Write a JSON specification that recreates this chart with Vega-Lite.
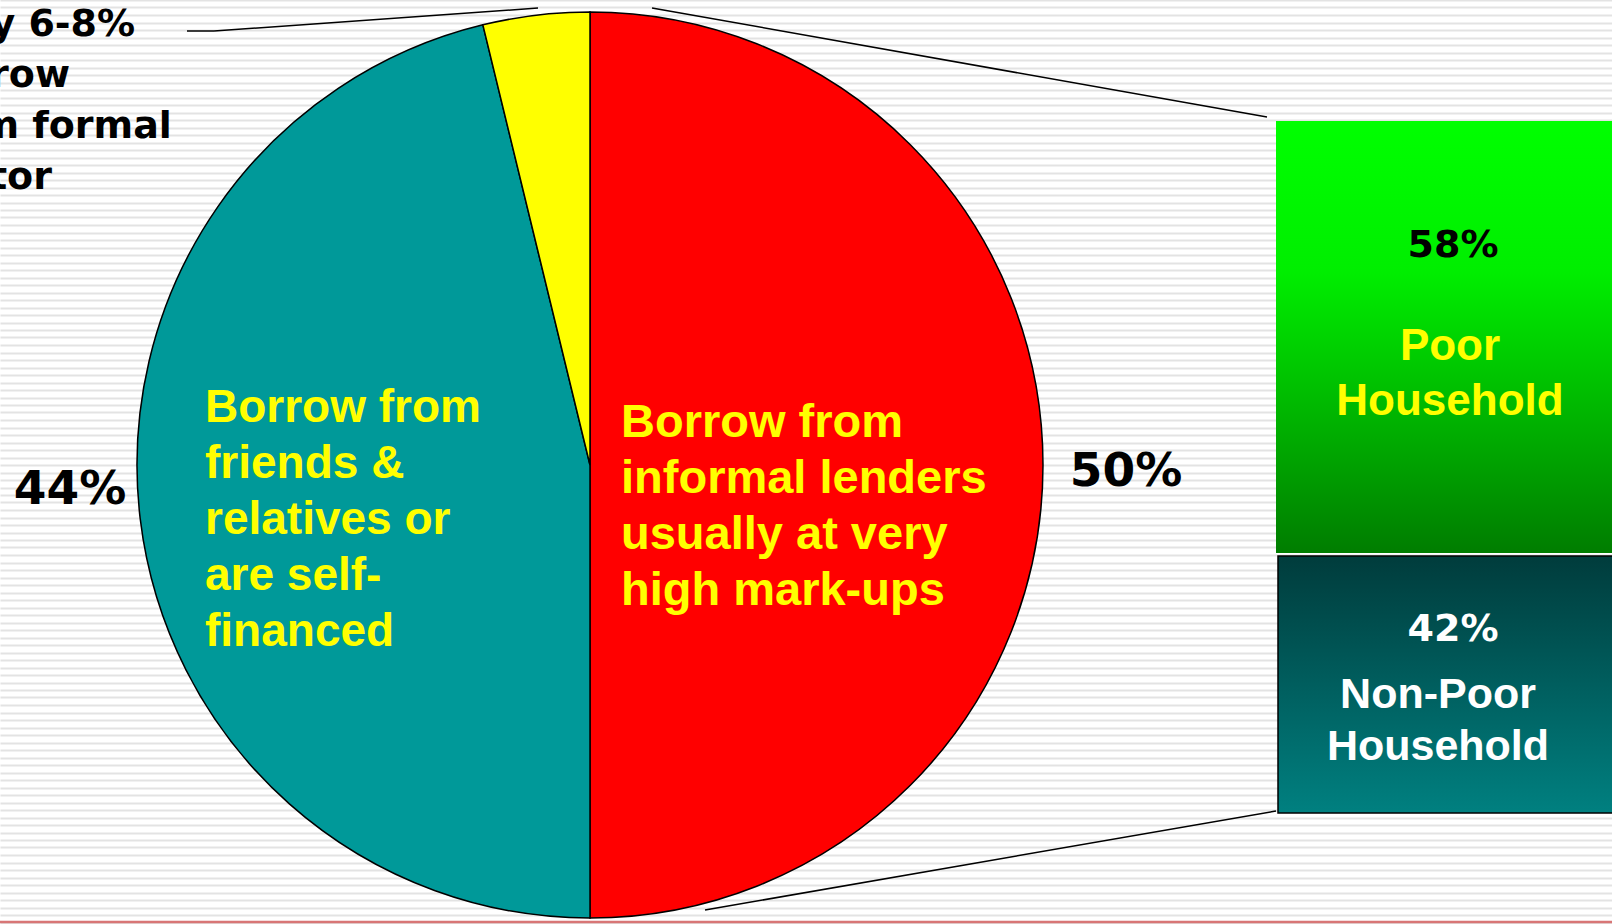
{
  "$schema": "https://vega.github.io/schema/vega-lite/v6.json",
  "width": 1612,
  "height": 924,
  "padding": 0,
  "autosize": {"type": "none"},
  "background": "#ffffff",
  "config": {"view": {"stroke": null}},
  "datasets": {
    "sources": [
      {"source": "Informal lenders", "share": 50, "order": 1, "pct": "50%", "desc": "Borrow from\ninformal lenders\nusually at very\nhigh mark-ups"},
      {"source": "Friends & relatives / self-financed", "share": 46.2, "order": 2, "pct": "44%", "desc": "Borrow from\nfriends &\nrelatives or\nare self-\nfinanced"},
      {"source": "Formal sector", "share": 3.8, "order": 3, "pct": "6-8%", "desc": "Only 6-8%\nborrow\nfrom formal\nsector"}
    ],
    "households": [
      {"group": "Poor", "pct": "58%", "name": "Poor\nHousehold"},
      {"group": "Non-Poor", "pct": "42%", "name": "Non-Poor\nHousehold"}
    ]
  },
  "resolve": {"scale": {"y": "independent"}},
  "layer": [
    {
      "data": {"values": [{}]},
      "mark": {"type": "rule", "opacity": 0},
      "encoding": {
        "y": {"datum": 0, "type": "quantitative", "scale": {"domain": [0, 123.2], "nice": false, "zero": false, "reverse": true},
          "axis": {"grid": true, "gridColor": "#e3e3e3", "gridWidth": 2.2, "labels": false, "ticks": false, "domain": false, "tickCount": 124, "title": null}}
      }
    },
    {
      "layer": [
        {
          "data": {"values": [{}]},
          "mark": {"type": "rule", "color": "#d87676", "strokeWidth": 2.5},
          "encoding": {
            "y": {"datum": 922, "type": "quantitative", "scale": {"domain": [0, 924], "nice": false, "zero": false, "reverse": true}, "axis": null}
          }
        },
        {
          "data": {"name": "sources"},
          "mark": {"type": "arc", "outerRadius": 453, "stroke": "#000000", "strokeWidth": 1.5},
          "encoding": {
            "theta": {"field": "share", "type": "quantitative", "stack": true},
            "order": {"field": "order", "type": "quantitative"},
            "color": {"field": "source", "type": "nominal", "legend": null,
              "scale": {"domain": ["Informal lenders", "Friends & relatives / self-financed", "Formal sector"], "range": ["#ff0000", "#009999", "#ffff00"]}},
            "x": {"datum": 590, "type": "quantitative", "scale": {"domain": [0, 1612], "nice": false, "zero": false}, "axis": null},
            "y": {"datum": 465, "type": "quantitative", "scale": {"domain": [0, 924], "nice": false, "zero": false, "reverse": true}, "axis": null}
          }
        },
        {
          "data": {"values": [{}]},
          "mark": {"type": "rule", "color": "#000000", "strokeWidth": 1.5},
          "encoding": {
            "x": {"datum": 187, "type": "quantitative", "scale": {"domain": [0, 1612], "nice": false, "zero": false}, "axis": null},
            "x2": {"datum": 214},
            "y": {"datum": 31, "type": "quantitative", "scale": {"domain": [0, 924], "nice": false, "zero": false, "reverse": true}, "axis": null},
            "y2": {"datum": 31}
          }
        },
        {
          "data": {"values": [{}]},
          "mark": {"type": "rule", "color": "#000000", "strokeWidth": 1.5},
          "encoding": {
            "x": {"datum": 214, "type": "quantitative", "scale": {"domain": [0, 1612], "nice": false, "zero": false}, "axis": null},
            "x2": {"datum": 538},
            "y": {"datum": 31, "type": "quantitative", "scale": {"domain": [0, 924], "nice": false, "zero": false, "reverse": true}, "axis": null},
            "y2": {"datum": 8}
          }
        },
        {
          "data": {"values": [{}]},
          "mark": {"type": "rule", "color": "#000000", "strokeWidth": 1.5},
          "encoding": {
            "x": {"datum": 652, "type": "quantitative", "scale": {"domain": [0, 1612], "nice": false, "zero": false}, "axis": null},
            "x2": {"datum": 1267},
            "y": {"datum": 8, "type": "quantitative", "scale": {"domain": [0, 924], "nice": false, "zero": false, "reverse": true}, "axis": null},
            "y2": {"datum": 117}
          }
        },
        {
          "data": {"values": [{}]},
          "mark": {"type": "rule", "color": "#000000", "strokeWidth": 1.5},
          "encoding": {
            "x": {"datum": 705, "type": "quantitative", "scale": {"domain": [0, 1612], "nice": false, "zero": false}, "axis": null},
            "x2": {"datum": 1276},
            "y": {"datum": 910, "type": "quantitative", "scale": {"domain": [0, 924], "nice": false, "zero": false, "reverse": true}, "axis": null},
            "y2": {"datum": 811}
          }
        },
        {
          "data": {"values": [{}]},
          "mark": {"type": "rect", "color": {"gradient": "linear", "x1": 0, "y1": 0, "x2": 0, "y2": 1, "stops": [{"offset": 0, "color": "#00ff00"}, {"offset": 0.35, "color": "#00ee00"}, {"offset": 1, "color": "#007d00"}]}},
          "encoding": {
            "x": {"datum": 1276, "type": "quantitative", "scale": {"domain": [0, 1612], "nice": false, "zero": false}, "axis": null},
            "x2": {"datum": 1650},
            "y": {"datum": 121, "type": "quantitative", "scale": {"domain": [0, 924], "nice": false, "zero": false, "reverse": true}, "axis": null},
            "y2": {"datum": 553}
          }
        },
        {
          "data": {"values": [{}]},
          "mark": {"type": "rect", "stroke": "#000000", "strokeWidth": 1.5, "color": {"gradient": "linear", "x1": 0, "y1": 0, "x2": 0, "y2": 1, "stops": [{"offset": 0, "color": "#003c3c"}, {"offset": 1, "color": "#008080"}]}},
          "encoding": {
            "x": {"datum": 1278, "type": "quantitative", "scale": {"domain": [0, 1612], "nice": false, "zero": false}, "axis": null},
            "x2": {"datum": 1650},
            "y": {"datum": 556, "type": "quantitative", "scale": {"domain": [0, 924], "nice": false, "zero": false, "reverse": true}, "axis": null},
            "y2": {"datum": 813}
          }
        },
        {
          "data": {"name": "sources"},
          "transform": [{"filter": "datum.order === 1"}],
          "mark": {"type": "text", "align": "left", "baseline": "alphabetic", "font": "Liberation Sans", "fontWeight": "bold", "fontSize": 47, "lineHeight": 56, "lineBreak": "\n", "color": "#ffff00"},
          "encoding": {
            "text": {"field": "desc"},
            "x": {"datum": 621, "type": "quantitative", "scale": {"domain": [0, 1612], "nice": false, "zero": false}, "axis": null},
            "y": {"datum": 437, "type": "quantitative", "scale": {"domain": [0, 924], "nice": false, "zero": false, "reverse": true}, "axis": null}
          }
        },
        {
          "data": {"name": "sources"},
          "transform": [{"filter": "datum.order === 2"}],
          "mark": {"type": "text", "align": "left", "baseline": "alphabetic", "font": "Liberation Sans", "fontWeight": "bold", "fontSize": 46, "lineHeight": 56, "lineBreak": "\n", "color": "#ffff00"},
          "encoding": {
            "text": {"field": "desc"},
            "x": {"datum": 205, "type": "quantitative", "scale": {"domain": [0, 1612], "nice": false, "zero": false}, "axis": null},
            "y": {"datum": 422, "type": "quantitative", "scale": {"domain": [0, 924], "nice": false, "zero": false, "reverse": true}, "axis": null}
          }
        },
        {
          "data": {"name": "sources"},
          "transform": [{"filter": "datum.order === 3"}],
          "mark": {"type": "text", "align": "left", "baseline": "alphabetic", "font": "DejaVu Sans", "fontWeight": "bold", "fontSize": 38, "lineHeight": 51, "lineBreak": "\n", "color": "#000000"},
          "encoding": {
            "text": {"field": "desc"},
            "x": {"datum": -82, "type": "quantitative", "scale": {"domain": [0, 1612], "nice": false, "zero": false}, "axis": null},
            "y": {"datum": 36, "type": "quantitative", "scale": {"domain": [0, 924], "nice": false, "zero": false, "reverse": true}, "axis": null}
          }
        },
        {
          "data": {"name": "sources"},
          "transform": [{"filter": "datum.order === 1"}],
          "mark": {"type": "text", "align": "center", "baseline": "middle", "font": "DejaVu Sans", "fontWeight": "bold", "fontSize": 47, "color": "#000000"},
          "encoding": {
            "text": {"field": "pct"},
            "x": {"datum": 1126, "type": "quantitative", "scale": {"domain": [0, 1612], "nice": false, "zero": false}, "axis": null},
            "y": {"datum": 472, "type": "quantitative", "scale": {"domain": [0, 924], "nice": false, "zero": false, "reverse": true}, "axis": null}
          }
        },
        {
          "data": {"name": "sources"},
          "transform": [{"filter": "datum.order === 2"}],
          "mark": {"type": "text", "align": "center", "baseline": "middle", "font": "DejaVu Sans", "fontWeight": "bold", "fontSize": 47, "color": "#000000"},
          "encoding": {
            "text": {"field": "pct"},
            "x": {"datum": 70, "type": "quantitative", "scale": {"domain": [0, 1612], "nice": false, "zero": false}, "axis": null},
            "y": {"datum": 490, "type": "quantitative", "scale": {"domain": [0, 924], "nice": false, "zero": false, "reverse": true}, "axis": null}
          }
        },
        {
          "data": {"name": "households"},
          "transform": [{"filter": "datum.group === 'Poor'"}],
          "mark": {"type": "text", "align": "center", "baseline": "middle", "font": "DejaVu Sans", "fontWeight": "bold", "fontSize": 38, "color": "#000000"},
          "encoding": {
            "text": {"field": "pct"},
            "x": {"datum": 1453, "type": "quantitative", "scale": {"domain": [0, 1612], "nice": false, "zero": false}, "axis": null},
            "y": {"datum": 246, "type": "quantitative", "scale": {"domain": [0, 924], "nice": false, "zero": false, "reverse": true}, "axis": null}
          }
        },
        {
          "data": {"name": "households"},
          "transform": [{"filter": "datum.group === 'Poor'"}],
          "mark": {"type": "text", "align": "center", "baseline": "alphabetic", "font": "Liberation Sans", "fontWeight": "bold", "fontSize": 44, "lineHeight": 55, "lineBreak": "\n", "color": "#ffff00"},
          "encoding": {
            "text": {"field": "name"},
            "x": {"datum": 1450, "type": "quantitative", "scale": {"domain": [0, 1612], "nice": false, "zero": false}, "axis": null},
            "y": {"datum": 360, "type": "quantitative", "scale": {"domain": [0, 924], "nice": false, "zero": false, "reverse": true}, "axis": null}
          }
        },
        {
          "data": {"name": "households"},
          "transform": [{"filter": "datum.group === 'Non-Poor'"}],
          "mark": {"type": "text", "align": "center", "baseline": "middle", "font": "DejaVu Sans", "fontWeight": "bold", "fontSize": 38, "color": "#ffffff"},
          "encoding": {
            "text": {"field": "pct"},
            "x": {"datum": 1453, "type": "quantitative", "scale": {"domain": [0, 1612], "nice": false, "zero": false}, "axis": null},
            "y": {"datum": 630, "type": "quantitative", "scale": {"domain": [0, 924], "nice": false, "zero": false, "reverse": true}, "axis": null}
          }
        },
        {
          "data": {"name": "households"},
          "transform": [{"filter": "datum.group === 'Non-Poor'"}],
          "mark": {"type": "text", "align": "center", "baseline": "alphabetic", "font": "Liberation Sans", "fontWeight": "bold", "fontSize": 43, "lineHeight": 52, "lineBreak": "\n", "color": "#ffffff"},
          "encoding": {
            "text": {"field": "name"},
            "x": {"datum": 1438, "type": "quantitative", "scale": {"domain": [0, 1612], "nice": false, "zero": false}, "axis": null},
            "y": {"datum": 708, "type": "quantitative", "scale": {"domain": [0, 924], "nice": false, "zero": false, "reverse": true}, "axis": null}
          }
        }
      ]
    }
  ]
}
